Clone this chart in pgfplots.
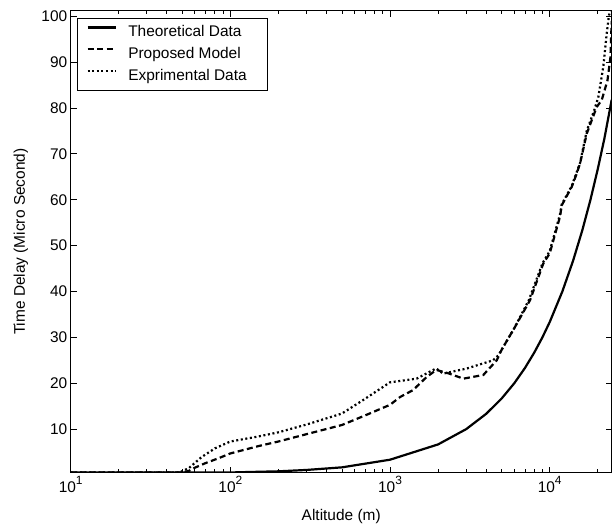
\documentclass[border=0pt]{standalone}
\usepackage{fontspec}
\setmainfont{Liberation Sans}
\usepackage{pgfplots}
\pgfplotsset{compat=1.18}

% 10^n tick labels in the text font
\newcommand{\dec}[1]{10\raisebox{0.5em}{\fontsize{12}{12}\selectfont #1}}

\begin{document}
\begin{tikzpicture}
\begin{semilogxaxis}[
    scale only axis,
    width=541bp, height=462bp,
    xmin=10, xmax=24450,
    ymin=0.5, ymax=101.2,
    font=\fontsize{15.5}{18}\selectfont,
    /pgf/number format/assume math mode=true,
    xtick={10,100,1000,10000},
    xticklabels={\dec{1},\dec{2},\dec{3},\dec{4}},
    minor xtick={20,30,40,50,60,70,80,90,200,300,400,500,600,700,800,900,
                 2000,3000,4000,5000,6000,7000,8000,9000,20000},
    ytick={10,20,30,40,50,60,70,80,90,100},
    tick align=inside,
    major tick length=6bp,
    minor tick length=3.5bp,
    axis line style={line width=0.9bp},
    every tick/.style={black, line width=0.9bp},
    xlabel={Altitude (m)},
    ylabel={Time Delay (Micro Second)},
    xlabel style={at={(axis description cs:0.5,-0.1045)}, anchor=base},
    ylabel style={at={(axis description cs:-0.0919,0.5)}, anchor=center},
    legend cell align=left,
    legend image code/.code={\draw[#1] (0bp,5.5bp) -- (28bp,5.5bp);},
    legend style={
        at={(axis description cs:0,1)}, anchor=north west,
        xshift=6.6bp, yshift=-7.6bp,
        draw=black, line width=0.8bp,
        inner xsep=8.7bp, inner ysep=7bp,
        row sep=7.2bp, column sep=11.7bp,
        nodes={inner sep=0pt, text height=11bp, text depth=3.5bp},
    },
]

% theoretical: altitude / c (lowest values sit on the axis)
\addplot[black, line width=2.2bp] table {
10     0.55
50     0.55
100    0.55
150    0.7
200    0.8
300    1.1
500    1.667
1000   3.333
2000   6.667
3000   10.0
4000   13.33
5000   16.67
6000   20.0
7000   23.33
8000   26.67
9000   30.0
10000  33.33
12000  40.0
14000  46.67
16000  53.33
18000  60.0
20000  66.67
22000  73.33
24450  81.8
};
\addlegendentry{\makebox[130bp][l]{Theoretical Data}}

\addplot[black, line width=2.2bp, dash pattern=on 6bp off 3.5bp] table {
10     0.55
30     0.55
50     0.55
55     0.9
60     1.6
70     2.6
85     3.7
100    4.7
150    6.3
200    7.3
300    8.9
500    10.9
700    13.0
1000   15.3
1156   17.0
1393   18.5
1700   21.4
1950   22.9
2300   22.2
2880   21.0
3840   21.8
4660   25.0
5000   27.3
6000   32.0
7530   38.1
9120   46.1
10000  48.3
11600  56.3
11900  58.8
13740  62.8
14760  65.7
15490  67.9
17060  74.4
19690  80.2
21170  81.7
23000  86.0
24000  91.0
24450  99.0
};
\addlegendentry{\makebox[130bp][l]{Proposed Model}}

\addplot[black, line width=2.2bp, dash pattern=on 2bp off 2.6bp] table {
10     0.55
30     0.55
48     0.55
55     1.5
66     3.9
80     5.8
100    7.3
150    8.4
200    9.3
300    11.0
500    13.4
676    16.3
1000   20.2
1469   21.0
1862   22.9
1950   23.2
2150   22.1
3020   23.2
4420   25.0
4770   26.1
5000   27.3
6000   32.0
7400   38.1
9000   46.1
10000  48.8
11600  56.8
11900  59.0
13740  63.0
14760  66.0
15490  68.0
17060  75.0
19000  79.5
20170  82.4
21660  89.0
22750  96.2
23500  100.2
24450  102.0
};
\addlegendentry{\makebox[130bp][l]{Exprimental Data}}

\end{semilogxaxis}
\pgfresetboundingbox
\path[use as bounding box]
    ([shift={(-70.7bp,-55.3bp)}]current axis.south west)
    rectangle ([shift={(1.3bp,10.7bp)}]current axis.north east);
\end{tikzpicture}
\end{document}
